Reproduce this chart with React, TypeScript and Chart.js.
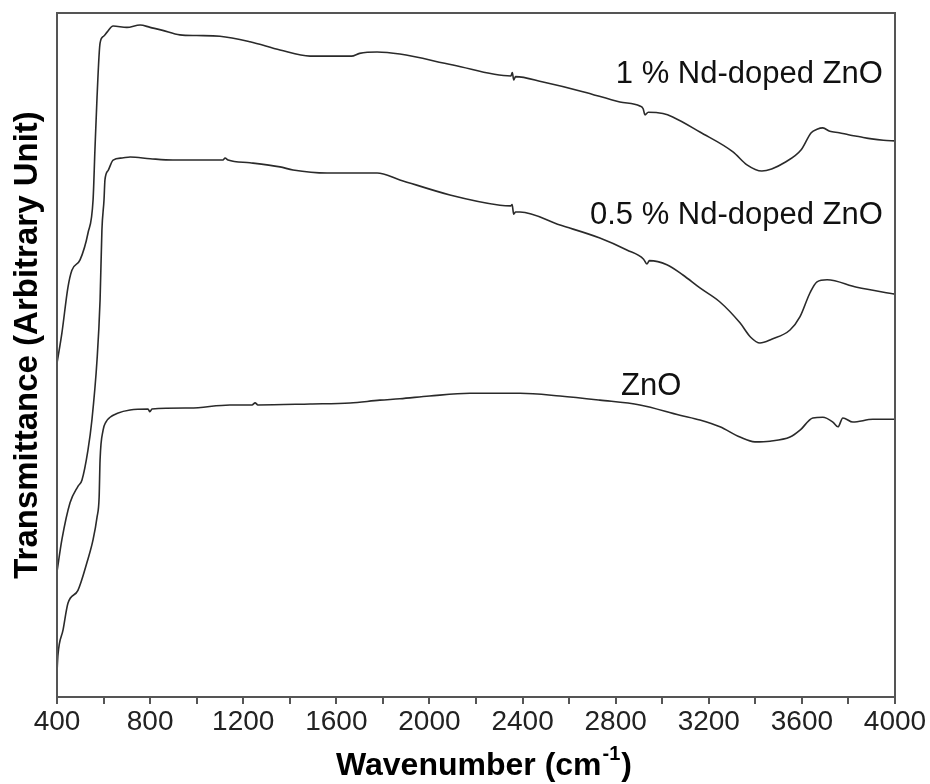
import React, { useEffect, useRef } from "react";
import { Chart, registerables } from "chart.js";

Chart.register(...registerables);

// ---- data (wavenumber in cm^-1, transmittance in arbitrary units) ----
const nd1Wn = [400, 421, 447, 464, 499, 533, 555, 563, 572, 585, 600, 615, 641, 700, 757, 800, 850, 928, 1000, 1100, 1229, 1358, 1487, 1600, 1665, 1700, 1775, 1873, 2101, 2350, 2356, 2362, 2370, 2488, 2659, 2818, 2904, 2918, 2926, 2940, 3003, 3045, 3162, 3304, 3364, 3428, 3470, 3524, 3597, 3640, 3665, 3690, 3720, 3760, 3800, 3849, 3900, 3950, 4000];
const nd1T = [48.8, 53.2, 59.9, 62.4, 63.9, 67.8, 72.7, 80.0, 87.7, 95.6, 96.6, 97.2, 98.1, 97.9, 98.25, 97.9, 97.5, 96.8, 96.7, 96.6, 95.8, 94.6, 93.7, 93.7, 93.7, 94.1, 94.3, 94.0, 92.4, 90.8, 91.3, 90.2, 90.7, 89.9, 88.5, 87.0, 86.4, 86.0, 85.1, 85.5, 85.3, 84.8, 82.6, 79.7, 77.8, 76.9, 77.2, 78.1, 80.0, 82.5, 83.0, 83.2, 82.7, 82.5, 82.2, 81.9, 81.6, 81.4, 81.3];

const nd05Wn = [400, 421, 456, 490, 507, 533, 550, 572, 585, 593, 602, 606, 620, 641, 680, 714, 800, 898, 1000, 1113, 1122, 1135, 1229, 1358, 1414, 1560, 1775, 1873, 2088, 2303, 2350, 2355, 2362, 2370, 2389, 2561, 2732, 2848, 2920, 2934, 2945, 3020, 3089, 3162, 3248, 3334, 3380, 3420, 3470, 3549, 3592, 3635, 3665, 3708, 3836, 4000];
const nd05T = [18.3, 23.0, 28.4, 30.8, 31.7, 36.1, 40.5, 49.3, 58.0, 68.3, 72.7, 75.6, 77.0, 78.5, 78.8, 78.95, 78.7, 78.5, 78.5, 78.5, 78.8, 78.5, 78.1, 77.5, 77.05, 76.6, 76.6, 75.6, 73.4, 71.9, 71.8, 72.0, 70.6, 70.9, 70.9, 69.0, 67.1, 65.35, 64.0, 63.3, 63.8, 63.2, 61.7, 59.8, 57.75, 54.7, 52.6, 51.75, 52.3, 53.65, 55.6, 59.1, 60.7, 61.0, 59.9, 58.9];

const znoWn = [400, 404, 426, 447, 490, 529, 555, 572, 581, 585, 598, 610, 628, 660, 714, 791, 799, 808, 971, 1143, 1238, 1251, 1263, 1487, 1659, 1787, 1873, 2000, 2174, 2389, 2561, 2732, 2904, 3076, 3162, 3248, 3334, 3398, 3463, 3549, 3592, 3647, 3690, 3733, 3755, 3776, 3819, 3905, 4000];
const znoT = [3.65, 6.1, 9.8, 13.7, 15.6, 19.7, 23.0, 26.3, 29.2, 34.65, 39.0, 40.2, 40.9, 41.5, 41.96, 42.1, 41.7, 42.1, 42.25, 42.7, 42.7, 43.0, 42.7, 42.84, 42.98, 43.4, 43.6, 44.0, 44.4, 44.4, 44.0, 43.4, 42.7, 41.2, 40.5, 39.5, 38.0, 37.3, 37.4, 38.0, 39.0, 40.8, 40.9, 40.2, 39.5, 40.8, 40.2, 40.6, 40.6];

const seriesNames = ["1 % Nd-doped ZnO", "0.5 % Nd-doped ZnO", "ZnO"];
const xTitleMain = "Wavenumber (cm";
const xTitleSup = "-1";
const xTitleEnd = ")";
const yTitle = "Transmittance (Arbitrary Unit)";
const xMin = 400;
const xMax = 4000;
const xStep = 200;
const xLabelStep = 400;

const FONT = '"Liberation Sans", Arial, sans-serif';

const toPoints = (xs: number[], ys: number[]) => xs.map((x, i) => ({ x, y: ys[i] }));

const decorPlugin = {
  id: "decor",
  afterDraw(chart: any) {
    const { ctx, chartArea: a, scales } = chart;
    const xs = scales.x;
    const ys = scales.y;
    ctx.save();
    // frame
    ctx.strokeStyle = "#555";
    ctx.lineWidth = 2;
    ctx.strokeRect(a.left, a.top, a.right - a.left, a.bottom - a.top);

    // series labels
    ctx.fillStyle = "#111";
    ctx.font = `31px ${FONT}`;
    ctx.textBaseline = "alphabetic";
    ctx.textAlign = "right";
    ctx.fillText(seriesNames[0], xs.getPixelForValue(3948), ys.getPixelForValue(89.8));
    ctx.fillText(seriesNames[1], xs.getPixelForValue(3948), ys.getPixelForValue(69.2));
    ctx.textAlign = "left";
    ctx.fillText(seriesNames[2], xs.getPixelForValue(2823), ys.getPixelForValue(44.2));

    // x title with superscript
    const mainFont = `bold 32px ${FONT}`;
    const supFont = `bold 20px ${FONT}`;
    ctx.font = mainFont;
    const w1 = ctx.measureText(xTitleMain).width;
    const w3 = ctx.measureText(xTitleEnd).width;
    ctx.font = supFont;
    const w2 = ctx.measureText(xTitleSup).width;
    const total = w1 + w2 + w3 + 2;
    const cx = (a.left + a.right) / 2 + 8;
    const base = a.bottom + 78;
    let sx = cx - total / 2;
    ctx.textAlign = "left";
    ctx.fillStyle = "#000";
    ctx.font = mainFont;
    ctx.fillText(xTitleMain, sx, base);
    sx += w1 + 1;
    ctx.font = supFont;
    ctx.fillText(xTitleSup, sx, base - 15);
    sx += w2 + 1;
    ctx.font = mainFont;
    ctx.fillText(xTitleEnd, sx, base);

    // y title
    ctx.save();
    ctx.translate(37, (a.top + a.bottom) / 2 - 10);
    ctx.rotate(-Math.PI / 2);
    ctx.textAlign = "center";
    ctx.font = `bold 33px ${FONT}`;
    ctx.fillText(yTitle, 0, 0);
    ctx.restore();

    ctx.restore();
  },
};

export default function App() {
  const ref = useRef<HTMLCanvasElement | null>(null);
  useEffect(() => {
    if (!ref.current) return;
    const lineStyle = {
      borderColor: "#2a2a2a",
      borderWidth: 1.6,
      pointRadius: 0,
      fill: false,
      cubicInterpolationMode: "monotone" as const,
    };
    const chart = new Chart(ref.current, {
      type: "line",
      data: {
        datasets: [
          { label: seriesNames[0], data: toPoints(nd1Wn, nd1T), ...lineStyle },
          { label: seriesNames[1], data: toPoints(nd05Wn, nd05T), ...lineStyle },
          { label: seriesNames[2], data: toPoints(znoWn, znoT), ...lineStyle },
        ],
      },
      options: {
        responsive: false,
        animation: false,
        devicePixelRatio: 1,
        layout: { padding: { left: 57, right: 35, top: 13, bottom: 44.4 } },
        plugins: { legend: { display: false }, tooltip: { enabled: false } },
        scales: {
          x: {
            type: "linear",
            min: xMin,
            max: xMax,
            border: { display: false },
            grid: {
              drawOnChartArea: false,
              drawTicks: true,
              tickLength: 7,
              color: "#555",
              lineWidth: 2,
            },
            ticks: {
              stepSize: xStep,
              autoSkip: false,
              maxRotation: 0,
              padding: 1,
              color: "#222",
              font: { family: FONT, size: 28 },
              callback: (v: any) => (Number(v) % xLabelStep === 0 ? String(v) : ""),
            },
          },
          y: {
            type: "linear",
            min: 0,
            max: 100,
            display: false,
          },
        },
      },
      plugins: [decorPlugin],
    });
    return () => chart.destroy();
  }, []);
  return (
    <div style={{ position: "absolute", left: 0, top: 0, width: 930, height: 784, background: "#fff" }}>
      <canvas ref={ref} width={930} height={784} style={{ display: "block" }} />
    </div>
  );
}
